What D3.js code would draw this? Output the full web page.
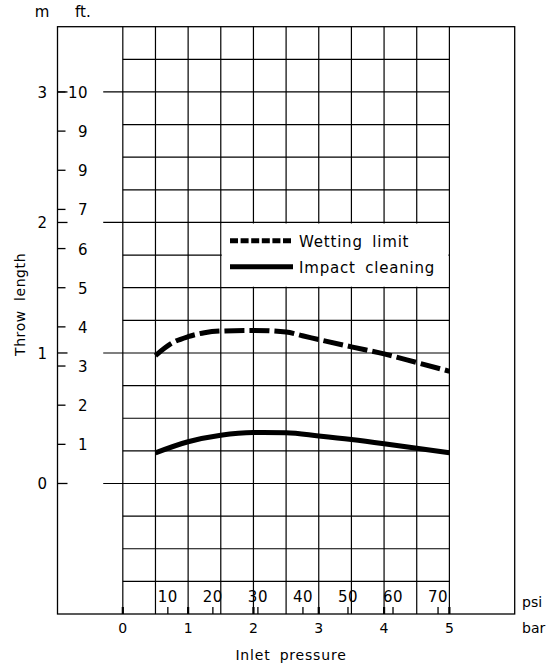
<!DOCTYPE html>
<html>
<head>
<meta charset="utf-8">
<script src="https://cdn.jsdelivr.net/npm/d3@7"></script>
<style>
  body { margin: 0; background: #fff; }
  text { font-family: "DejaVu Sans", sans-serif; fill: #000; }
</style>
</head>
<body>
<script>
// données (pression en bar, portée en m)
const pressureWet = [0.5, 0.75, 1.0, 1.25, 1.5, 2.0, 2.5, 2.75, 3.0, 3.5, 4.0, 4.5, 5.0];
const wettingLimit = [0.98, 1.075, 1.125, 1.155, 1.168, 1.173, 1.16, 1.132, 1.103, 1.047, 0.993, 0.927, 0.86];

const pressureImpact = [0.5, 1.0, 1.5, 2.0, 2.5, 3.0, 3.5, 4.0, 4.5, 5.0];
const impactCleaning = [0.235, 0.32, 0.37, 0.39, 0.388, 0.364, 0.337, 0.305, 0.27, 0.235];

const barTicks = [0, 1, 2, 3, 4, 5];
const psiTicks = [10, 20, 30, 40, 50, 60, 70];
const meterTicks = [0, 1, 2, 3];
const feetTicks = [1, 2, 3, 4, 5, 6, 7, 8, 9, 10];
const feetLabels = ["1", "2", "3", "4", "5", "6", "7", "9", "9", "10"];
const legendLabels = ["Wetting limit", "Impact cleaning"];

const W = 555, H = 669;
const svg = d3.select("body").append("svg")
    .attr("width", W)
    .attr("height", H);

// échelles : le cadre va de -1 à 6 bar et de -1 à 3.5 m
const x = d3.scaleLinear().domain([-1, 6]).range([57.5, 514.7]);
const y = d3.scaleLinear().domain([-1, 3.5]).range([614, 26.7]);
const yFt = d3.scaleLinear().domain([0, 10]).range([y(0), y(3)]);
const BAR_PER_PSI = 1 / 14.5038;

const line = d3.line().x(d => x(d[0])).y(d => y(d[1])).curve(d3.curveMonotoneX);

// cadre
svg.append("rect")
    .attr("x", x(-1)).attr("y", y(3.5))
    .attr("width", x(6) - x(-1)).attr("height", y(-1) - y(3.5))
    .attr("fill", "none").attr("stroke", "#000").attr("stroke-width", 1.3);

// grille
const grid = svg.append("g").attr("stroke", "#000").attr("stroke-width", 1.2);
d3.range(0, 5.01, 0.5).forEach(b => {
    grid.append("line")
        .attr("x1", x(b)).attr("x2", x(b))
        .attr("y1", y(3.5)).attr("y2", y(-1));
});
d3.range(-0.75, 3.26, 0.25).forEach(m => {
    grid.append("line")
        .attr("x1", meterTicks.includes(m) ? x(-0.3) : x(0)).attr("x2", x(5))
        .attr("y1", y(m)).attr("y2", y(m));
});

// axe gauche : m et ft
const left = svg.append("g");
meterTicks.forEach(m => {
    left.append("line")
        .attr("x1", x(-1)).attr("x2", x(-1) + 10)
        .attr("y1", y(m)).attr("y2", y(m))
        .attr("stroke", "#000").attr("stroke-width", 1.3);
    left.append("text")
        .attr("x", 47).attr("y", y(m) + 6)
        .attr("text-anchor", "end")
        .attr("font-size", 15)
        .text(m);
});
feetTicks.forEach((f, i) => {
    left.append("line")
        .attr("x1", x(-1)).attr("x2", x(-1) + 8)
        .attr("y1", yFt(f)).attr("y2", yFt(f))
        .attr("stroke", "#000").attr("stroke-width", 1.3);
    left.append("text")
        .attr("x", 88).attr("y", yFt(f) + 6)
        .attr("text-anchor", "end")
        .attr("font-size", 15)
        .attr("letter-spacing", 0.5)
        .text(feetLabels[i]);
});
svg.append("text").attr("x", 42).attr("y", 17).attr("text-anchor", "middle")
    .attr("font-size", 15).text("m");
svg.append("text").attr("x", 75).attr("y", 17)
    .attr("font-size", 15).text("ft.");
svg.append("text")
    .attr("transform", "translate(25,356) rotate(-90)")
    .attr("font-size", 14)
    .attr("letter-spacing", 0.6)
    .attr("word-spacing", 4)
    .text("Throw length");

// axe du bas : bar et psi
const bottom = svg.append("g");
barTicks.forEach(b => {
    bottom.append("line")
        .attr("x1", x(b)).attr("x2", x(b))
        .attr("y1", y(-1)).attr("y2", y(-1) - 7)
        .attr("stroke", "#000").attr("stroke-width", 2.2);
    bottom.append("text")
        .attr("x", x(b)).attr("y", 633)
        .attr("text-anchor", "middle")
        .attr("font-size", 14)
        .text(b);
});
psiTicks.forEach(p => {
    bottom.append("line")
        .attr("x1", x(p * BAR_PER_PSI)).attr("x2", x(p * BAR_PER_PSI))
        .attr("y1", y(-1)).attr("y2", y(-1) - 7)
        .attr("stroke", "#000").attr("stroke-width", 1.3);
    bottom.append("text")
        .attr("x", x(p * BAR_PER_PSI)).attr("y", 602)
        .attr("text-anchor", "middle")
        .attr("font-size", 15)
        .attr("letter-spacing", 0.5)
        .text(p);
});
svg.append("text").attr("x", 522).attr("y", 607).attr("font-size", 14).text("psi");
svg.append("text").attr("x", 522).attr("y", 633).attr("font-size", 14).text("bar");
svg.append("text")
    .attr("x", 291).attr("y", 660)
    .attr("text-anchor", "middle")
    .attr("font-size", 14)
    .attr("letter-spacing", 0.8)
    .attr("word-spacing", 4)
    .text("Inlet pressure");

// courbes
svg.append("path")
    .datum(pressureWet.map((p, i) => [p, wettingLimit[i]]))
    .attr("d", line)
    .attr("fill", "none").attr("stroke", "#000")
    .attr("stroke-width", 5)
    .attr("stroke-dasharray", "20,5");

svg.append("path")
    .datum(pressureImpact.map((p, i) => [p, impactCleaning[i]]))
    .attr("d", line)
    .attr("fill", "none").attr("stroke", "#000")
    .attr("stroke-width", 5);

// légende (fond blanc qui masque la grille)
const legend = svg.append("g");
legend.append("rect")
    .attr("x", x(1.5) + 1).attr("y", y(2) + 1)
    .attr("width", x(5) - x(1.5) - 2).attr("height", y(1.5) - y(2) - 2)
    .attr("fill", "#fff");
legendLabels.forEach((lab, i) => {
    const ly = i === 0 ? 240.7 : 266.7;
    legend.append("line")
        .attr("x1", 230).attr("x2", 293)
        .attr("y1", ly).attr("y2", ly)
        .attr("stroke", "#000").attr("stroke-width", 5)
        .attr("stroke-dasharray", i === 0 ? "8,2.6" : null);
    legend.append("text")
        .attr("x", 299).attr("y", ly + 6)
        .attr("font-size", 15)
        .attr("letter-spacing", 0.8)
        .attr("word-spacing", 4)
        .text(lab);
});
</script>
</body>
</html>
